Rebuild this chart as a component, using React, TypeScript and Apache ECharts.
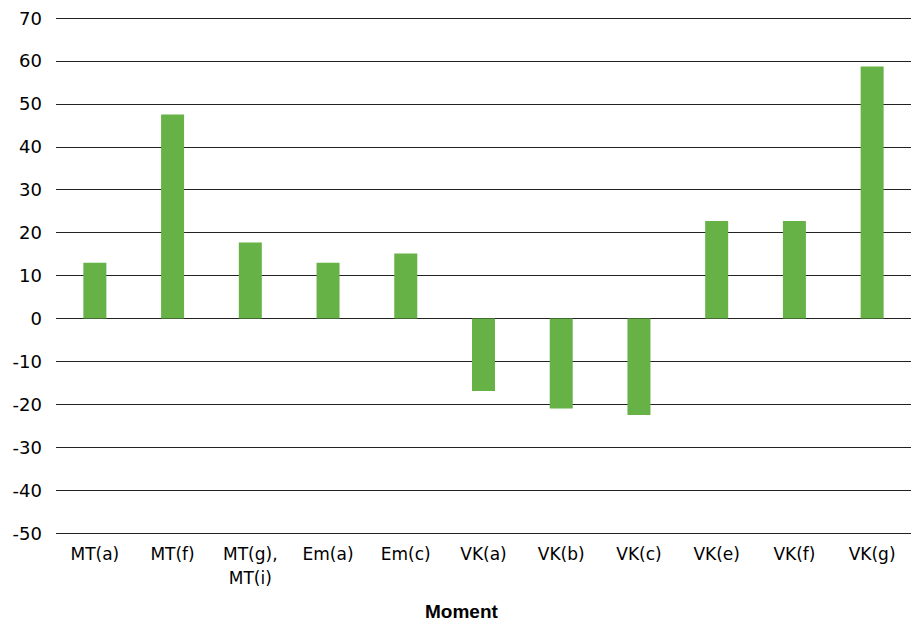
import React, { useEffect, useRef } from "react";
import * as echarts from "echarts";

const categories = ["MT(a)", "MT(f)", "MT(g),\nMT(i)", "Em(a)", "Em(c)", "VK(a)", "VK(b)", "VK(c)", "VK(e)", "VK(f)", "VK(g)"];
const values = [13, 47.5, 17.7, 13, 15.1, -16.9, -21, -22.5, 22.7, 22.7, 58.7];
const axisTitle = "Moment";

export default function App() {
  const ref = useRef<HTMLDivElement>(null);
  useEffect(() => {
    const chart = echarts.init(ref.current!, null, { renderer: "svg" });
    const font = "'DejaVu Sans', sans-serif";
    chart.setOption({
      animation: false,
      grid: { left: 56, right: -2, top: 18, bottom: 89, containLabel: false },
      graphic: [
        {
          type: "text",
          left: 425,
          top: 602,
          style: { text: axisTitle, font: "bold 19px 'Liberation Sans', Arial, sans-serif", fill: "#000" },
        },
      ],
      xAxis: {
        type: "category",
        data: categories,
        position: "bottom",
        axisLine: { show: false },
        axisTick: { show: false },
        axisLabel: {
          interval: 0,
          color: "#000",
          fontSize: 17,
          fontFamily: font,
          margin: 9,
          lineHeight: 24,
          verticalAlign: "top",
        },
      },
      yAxis: {
        type: "value",
        min: -50,
        max: 70,
        interval: 10,
        axisLine: { show: false },
        axisTick: { show: false },
        axisLabel: { color: "#000", fontSize: 18, fontFamily: font, margin: 14 },
        splitLine: { lineStyle: { color: "#222", width: 1 } },
      },
      series: [
        {
          type: "bar",
          data: values,
          barWidth: 23,
          itemStyle: { color: "#66b246" },
        },
      ],
    });
    return () => chart.dispose();
  }, []);
  return <div ref={ref} style={{ width: 911, height: 622, position: "absolute", left: 0, top: 0, background: "#fff" }} />;
}
